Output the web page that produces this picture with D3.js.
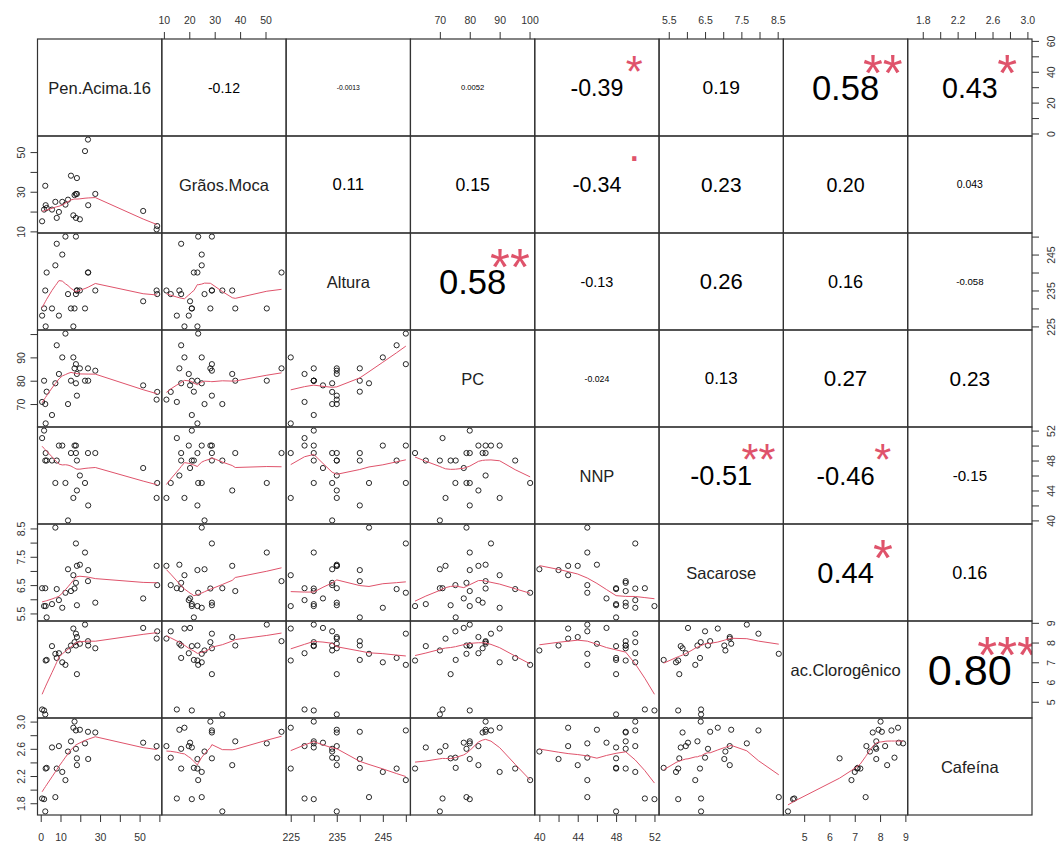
<!DOCTYPE html>
<html>
<head>
<meta charset="utf-8">
<script src="https://cdnjs.cloudflare.com/ajax/libs/d3/7.8.5/d3.min.js"></script>
<style>
  body { margin: 0; background: #fff; }
  svg { font-family: "Liberation Sans", Arial, sans-serif; }
</style>
</head>
<body>
<div id="chart"></div>
<script>
var varNames = ["Pen.Acima.16", "Grãos.Moca", "Altura", "PC", "NNP", "Sacarose", "ac.Clorogênico", "Cafeína"];

var penAcima   = [0.7, 1.7, 2.3, 2.5, 3.0, 5.7, 7.4, 8.1, 9.2, 10.9, 12.5, 13.8, 15.3, 16.5, 17.1, 17.8, 17.8, 18.3, 18.3, 19.8, 22.4, 23.9, 24.0, 27.6, 51.8, 58.6, 58.9];
var graosMoca  = [15.1, 21, 33, 23.2, 21.8, 21, 24.9, 16.8, 19.8, 24.9, 23.5, 26, 38.1, 18.1, 28.3, 28.9, 16.8, 28.9, 36.9, 16.1, 50.5, 56.3, 23.2, 28.9, 20.3, 11, 12.7];
var altura     = [228, 230, 235, 225, 240, 230, 242, 248, 228, 245, 250, 234, 230, 225, 230, 250, 234, 235, 235, 235, 230, 240, 240, 235, 232, 235, 234];
var pc         = [70.9, 80, 70, 61.7, 75.3, 65.3, 78.9, 95.2, 82.9, 90, 100.2, 70, 80, 90, 85.3, 87.1, 78.9, 73.6, 82.9, 85.3, 80, 85.3, 80, 84.3, 78, 71.9, 75.2];
var nnp        = [51, 52, 48, 49, 48, 48, 45, 48, 50, 50, 45, 40, 49, 43, 50, 50, 49, 48, 44, 46, 45, 49, 42, 49, 47, 43, 45];
var sacarose   = [6.39, 5.76, 6.39, 5.76, 5.36, 5.83, 8.53, 6.36, 5.97, 5.7, 6.23, 7.06, 6.29, 6.85, 6.38, 7.97, 6.58, 5.79, 7.18, 7.22, 7.65, 6.64, 7.03, 5.88, 6.03, 7.18, 6.5];
var clorogen   = [4.61, 4.56, 4.36, 7.09, 7.12, 7.82, 7.43, 7.22, 7.46, 7.0, 6.87, 7.6, 7.85, 8.71, 8.02, 8.45, 7.85, 6.4, 8.28, 7.94, 8.91, 8.07, 7.85, 7.71, 8.74, 8.2, 8.57];
var cafeina    = [1.87, 1.86, 1.68, 2.31, 2.32, 2.62, 1.89, 2.31, 2.64, 2.26, 2.14, 2.56, 2.71, 2.91, 3.0, 2.87, 2.60, 2.46, 2.36, 2.88, 2.68, 2.85, 2.45, 2.84, 2.69, 2.64, 2.47];

var series = [penAcima, graosMoca, altura, pc, nnp, sacarose, clorogen, cafeina];

// Correlations of the upper triangle, row by row
var corrLabels = ["-0.12", "-0.0013", "0.0052", "-0.39", "0.19", "0.58", "0.43",
                  "0.11", "0.15", "-0.34", "0.23", "0.20", "0.043",
                  "0.58", "-0.13", "0.26", "0.16", "-0.058",
                  "-0.024", "0.13", "0.27", "0.23",
                  "-0.51", "-0.46", "-0.15",
                  "0.44", "0.16",
                  "0.80"];
var corrStars = ["", "", "", "*", "", "**", "*",
                 "", "", ".", "", "", "",
                 "**", "", "", "", "",
                 "", "", "", "",
                 "**", "*", "",
                 "*", "",
                 "***"];

// Axis ticks
var tickValues = [[0, 10, 20, 30, 40, 50, 60], [10, 20, 30, 40, 50], [225, 230, 235, 240, 245, 250],
                  [70, 80, 90, 100], [40, 42, 44, 46, 48, 50, 52], [5.5, 6, 6.5, 7, 7.5, 8, 8.5],
                  [5, 6, 7, 8, 9], [1.8, 2, 2.2, 2.4, 2.6, 2.8, 3]];
var colTickLabels = [[0, 10, 30, 50], [10, 20, 30, 40, 50], [225, 235, 245], [70, 80, 90, 100],
                     [40, 44, 48, 52], [5.5, 6.5, 7.5, 8.5], [5, 6, 7, 8, 9], [1.8, 2.2, 2.6, 3]];
var rowTickLabels = [[0, 20, 40, 60], [10, 30, 50], [225, 235, 245], [70, 80, 90],
                     [40, 44, 48, 52], [5.5, 6.5, 7.5, 8.5], [5, 6, 7, 8, 9], [1.8, 2.2, 2.6, 3]];
var tickFormats = ["d", "d", "d", "d", "d", ".1f", "d", ".1f"];

// Layout
var width = 1059, height = 845;
var gridLeft = 37.5, gridRight = 1032, gridTop = 39, gridBottom = 815;
var nv = varNames.length;
var cellW = (gridRight - gridLeft) / nv;
var cellH = (gridBottom - gridTop) / nv;
var smoothColor = "#DF536B";

var svg = d3.select("#chart").append("svg")
            .attr("width", width)
            .attr("height", height);

// Scales, padded 4% each side like R
var xScales = [], yScales = [];
series.forEach(function(s, k) {
  var ext = d3.extent(s), pad = (ext[1] - ext[0]) * 0.04;
  var dom = [ext[0] - pad, ext[1] + pad];
  var x0 = gridLeft + k * cellW, y0 = gridTop + k * cellH;
  xScales.push(d3.scaleLinear().domain(dom).range([x0, x0 + cellW]));
  yScales.push(d3.scaleLinear().domain(dom).range([y0 + cellH, y0]));
});

// lowess (port of R's clowess)
function lowest(x, y, xs, nleft, nright, rw, range) {
  var n = x.length;
  var h = Math.max(xs - x[nleft], x[nright] - xs);
  var h9 = 0.999 * h, h1 = 0.001 * h;
  var w = new Array(n).fill(0);
  var a = 0, j = nleft;
  while (j < n) {
    var r = Math.abs(x[j] - xs);
    if (r <= h9) {
      w[j] = (r <= h1) ? 1 : Math.pow(1 - Math.pow(r / h, 3), 3);
      w[j] *= rw[j];
      a += w[j];
    } else if (x[j] > xs) break;
    j++;
  }
  var nrt = j - 1;
  if (a <= 0) return null;
  for (j = nleft; j <= nrt; j++) w[j] /= a;
  if (h > 0) {
    a = 0;
    for (j = nleft; j <= nrt; j++) a += w[j] * x[j];
    var b = xs - a, c = 0;
    for (j = nleft; j <= nrt; j++) c += w[j] * (x[j] - a) * (x[j] - a);
    if (Math.sqrt(c) > 0.001 * range) {
      b /= c;
      for (j = nleft; j <= nrt; j++) w[j] *= (b * (x[j] - a) + 1);
    }
  }
  var out = 0;
  for (j = nleft; j <= nrt; j++) out += w[j] * y[j];
  return out;
}

function lowess(xIn, yIn, f, iter) {
  var order = d3.range(xIn.length).sort(function(a, b) { return xIn[a] - xIn[b]; });
  var x = order.map(function(i) { return xIn[i]; });
  var y = order.map(function(i) { return yIn[i]; });
  var n = x.length;
  var ns = Math.max(2, Math.min(n, Math.floor(f * n + 1e-7)));
  var range = x[n - 1] - x[0];
  var delta = 0.01 * range;
  var rw = new Array(n).fill(1), ys = new Array(n).fill(0);
  for (var it = 1; it <= iter + 1; it++) {
    var nleft = 0, nright = ns - 1, last = -1, i = 0;
    for (;;) {
      if (nright < n - 1) {
        var d1 = x[i] - x[nleft], d2 = x[nright + 1] - x[i];
        if (d1 > d2) { nleft++; nright++; continue; }
      }
      var v = lowest(x, y, x[i], nleft, nright, rw, range);
      ys[i] = (v === null) ? y[i] : v;
      if (last < i - 1) {
        var denom = x[i] - x[last];
        for (var j = last + 1; j < i; j++) {
          var alpha = (x[j] - x[last]) / denom;
          ys[j] = alpha * ys[i] + (1 - alpha) * ys[last];
        }
      }
      last = i;
      var cut = x[last] + delta;
      for (i = last + 1; i < n; i++) {
        if (x[i] > cut) break;
        if (x[i] === x[last]) { ys[i] = ys[last]; last = i; }
      }
      i = Math.max(last + 1, i - 1);
      if (last >= n - 1) break;
    }
    if (it > iter) break;
    var absr = y.map(function(val, k) { return Math.abs(val - ys[k]); });
    var sorted = absr.slice().sort(function(a, b) { return a - b; });
    var m1 = Math.floor(n / 2);
    var cmad = (n % 2 === 0) ? 3 * (sorted[m1] + sorted[n - m1 - 1]) : 6 * sorted[m1];
    var sc = d3.sum(absr) / n;
    if (cmad < 1e-7 * sc) break;
    var c9 = 0.999 * cmad, c1 = 0.001 * cmad;
    rw = absr.map(function(r) {
      return r <= c1 ? 1 : (r <= c9 ? Math.pow(1 - Math.pow(r / cmad, 2), 2) : 0);
    });
  }
  return x.map(function(val, k) { return [val, ys[k]]; });
}

// Text width helper
var measure = svg.append("text").attr("font-size", 100).attr("visibility", "hidden");
function textWidth100(str) {
  measure.text(str);
  return measure.node().getComputedTextLength();
}

// Clip paths
var defs = svg.append("defs");
for (var ci = 0; ci < nv; ci++) {
  for (var cj = 0; cj < nv; cj++) {
    defs.append("clipPath").attr("id", "clip-" + ci + "-" + cj)
      .append("rect")
      .attr("x", gridLeft + cj * cellW).attr("y", gridTop + ci * cellH)
      .attr("width", cellW).attr("height", cellH);
  }
}

// Panels
var k = 0;
for (var i = 0; i < nv; i++) {
  for (var j = 0; j < nv; j++) {
    var cx = gridLeft + j * cellW, cy = gridTop + i * cellH;
    var g = svg.append("g").attr("clip-path", "url(#clip-" + i + "-" + j + ")");

    if (i === j) {
      g.append("text")
       .attr("x", cx + cellW / 2).attr("y", cy + cellH / 2)
       .attr("text-anchor", "middle").attr("dominant-baseline", "central")
       .attr("font-size", 16.5).attr("fill", "#222")
       .text(varNames[i]);
    } else if (i > j) {
      // scatter + lowess
      var xs = xScales[j], ys = yScales[i];
      var pts = series[j].map(function(v, n) { return [v, series[i][n]]; });
      g.selectAll("circle").data(pts).enter().append("circle")
       .attr("cx", function(d) { return xs(d[0]); })
       .attr("cy", function(d) { return ys(d[1]); })
       .attr("r", 2.6)
       .attr("fill", "none").attr("stroke", "#111").attr("stroke-width", 0.9);
      var fit = lowess(series[j], series[i], 2 / 3, 3);
      g.append("path")
       .attr("d", d3.line().x(function(d) { return xs(d[0]); }).y(function(d) { return ys(d[1]); })(fit))
       .attr("fill", "none").attr("stroke", smoothColor).attr("stroke-width", 1);
    } else {
      var txt = corrLabels[k], star = corrStars[k];
      k++;
      var r = Math.abs(parseFloat(txt));
      var full = 100 * 0.8 * cellW / textWidth100(txt);
      g.append("text")
       .attr("x", cx + cellW / 2).attr("y", cy + cellH / 2)
       .attr("text-anchor", "middle").attr("dominant-baseline", "central")
       .attr("font-size", full * (r + 0.3) / 1.3).attr("fill", "#000")
       .text(txt);
      if (star) {
        // the glyph box is centred on (0.8, 0.8) of the panel
        var lift = star === "." ? 0.08 : 0.6;
        g.append("text")
         .attr("x", cx + 0.8 * cellW).attr("y", cy + 0.2 * cellH + 2 + lift * full)
         .attr("text-anchor", "middle")
         .attr("font-size", full).attr("fill", smoothColor)
         .text(star);
      }
    }

    svg.append("rect")
       .attr("x", cx).attr("y", cy).attr("width", cellW).attr("height", cellH)
       .attr("fill", "none").attr("stroke", "#333").attr("stroke-width", 1.2);
  }
}

// Axes
function labelFormat(v) {
  var f = d3.format(tickFormats[v]);
  return function(labels) {
    return function(d) {
      return labels.some(function(l) { return Math.abs(l - d) < 1e-9; }) ? f(d) : "";
    };
  };
}

for (var v = 0; v < nv; v++) {
  var fmt = labelFormat(v);
  var horiz, hy;
  if (v % 2 === 0) { horiz = d3.axisBottom(xScales[v]).tickPadding(12); hy = gridBottom; }
  else { horiz = d3.axisTop(xScales[v]).tickPadding(8); hy = gridTop; }
  horiz.tickValues(tickValues[v]).tickSize(7).tickSizeOuter(0).tickFormat(fmt(colTickLabels[v]));
  var ga = svg.append("g").attr("transform", "translate(0," + hy + ")").call(horiz);
  ga.select(".domain").remove();
  ga.selectAll("text").attr("font-size", 10.5).attr("fill", "#333")
    .attr("font-family", "Liberation Sans, Arial, sans-serif");
  ga.selectAll("line").attr("stroke", "#333");

  var vert, vx, off;
  if (v % 2 === 0) { vert = d3.axisRight(yScales[v]); vx = gridRight; off = 19; }
  else { vert = d3.axisLeft(yScales[v]); vx = gridLeft; off = -17; }
  vert.tickValues(tickValues[v]).tickSize(7).tickSizeOuter(0).tickFormat(fmt(rowTickLabels[v]));
  var gv = svg.append("g").attr("transform", "translate(" + vx + ",0)").call(vert);
  gv.select(".domain").remove();
  gv.selectAll("line").attr("stroke", "#333");
  gv.selectAll("text")
    .attr("x", null).attr("dy", null)
    .attr("text-anchor", "middle").attr("dominant-baseline", "central")
    .attr("transform", "translate(" + off + ",0) rotate(-90)")
    .attr("font-size", 10.5).attr("fill", "#333")
    .attr("font-family", "Liberation Sans, Arial, sans-serif");
}
measure.remove();
</script>
</body>
</html>
